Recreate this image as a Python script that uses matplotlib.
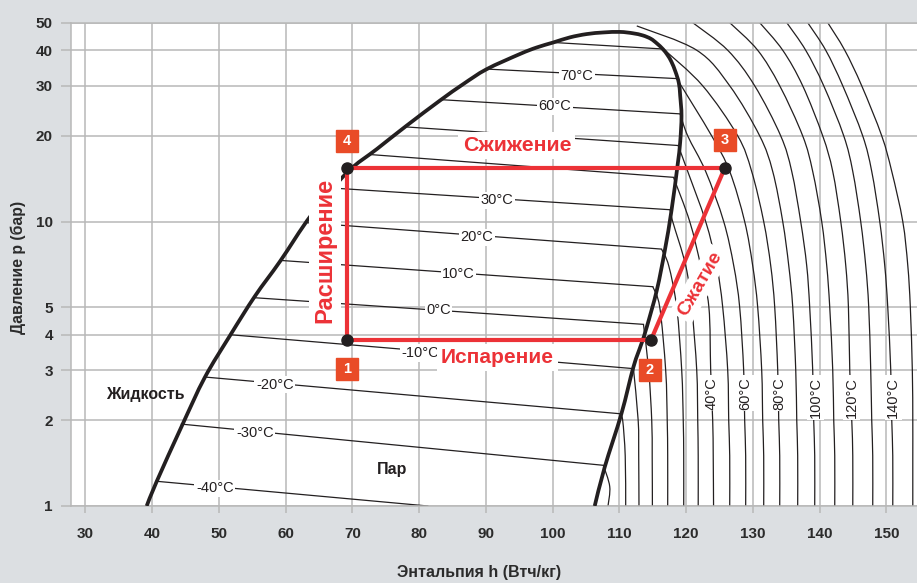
import numpy as np
import matplotlib
matplotlib.use('Agg')
import matplotlib.pyplot as plt
from matplotlib.ticker import NullLocator
from matplotlib.path import Path
from matplotlib.patches import PathPatch

plt.rcParams['font.family'] = ['Liberation Sans', 'DejaVu Sans']

# saturation dome (h in Wh/kg, p in bar), liquid side -> critical -> vapour side
dome_h = [39.2, 40.7, 44.5, 47.9, 51.7, 55.4, 59.2, 63.8, 69.2, 73.7, 78.1, 83.1,
          86.6, 90.1, 95.1, 97.6, 100.1, 102.6, 105.1, 107.6, 110.1, 112.0, 113.5,
          114.7, 115.6, 116.5, 117.2, 117.8, 118.4, 118.9, 119.1, 119.3, 119.1,
          118.7, 117.8, 116.8, 115.6, 114.1, 113.3, 112.1, 110.3, 107.8, 106.3]
dome_p = [1.0, 1.22, 1.92, 2.83, 3.98, 5.46, 7.26, 10.5, 14.86, 18.0, 21.7, 26.6,
          30.4, 34.3, 38.8, 40.9, 42.6, 44.4, 45.6, 46.2, 46.4, 45.9, 45.1,
          43.9, 42.3, 40.4, 38.5, 36.4, 33.6, 30.7, 27.7, 23.5, 19.0,
          15.7, 10.93, 7.91, 5.73, 4.26, 3.72, 3.08, 2.11, 1.37, 1.0]

# isotherms inside the dome
tp_temps = [-40, -30, -20, -10, 0, 10, 20, 30, 40, 50, 60, 70, 80]
tp_h_liq = [40.9, 44.4, 47.9, 51.7, 55.2, 59.2, 63.3, 67.3, 72.6, 78.1, 83.4, 90.6, 100.1]
tp_p_liq = [1.22, 1.94, 2.84, 4.0, 5.4, 7.3, 9.9, 13.1, 17.2, 21.5, 26.8, 34.3, 42.6]
tp_h_vap = [81.3, 107.6, 110.1, 112.1, 113.6, 115.0, 116.3, 117.6, 118.1, 118.8, 119.1, 118.6, 116.6]
tp_p_vap = [1.0, 1.39, 2.11, 3.04, 4.35, 5.9, 8.0, 11.0, 14.3, 18.5, 23.9, 31.8, 40.4]

# labelled two-phase isotherms: text, h, p
tp_lab_text = ['70°C', '60°C', '30°C', '20°C', '10°C', '0°C', '-10°C', '-20°C', '-30°C', '-40°C']
tp_lab_h = [103.6, 100.3, 91.6, 88.6, 85.9, 82.9, 80.2, 58.4, 55.4, 49.4]
tp_lab_p = [32.5, 25.4, 11.86, 8.81, 6.55, 4.90, 3.45, 2.67, 1.81, 1.154]

# superheated isotherms: start point, then h at fixed pressure levels
p_lev = [50, 40, 30, 20, 15, 10, 7, 5, 3, 2, 1.5, 1]
sh_temps = [-20, -10, 0, 10, 20, 30, 40, 50, 60, 70, 80, 90, 100, 110, 120, 130, 140, 150]
sh_start_h = [110.1, 112.1, 113.6, 115.0, 116.3, 117.6, 118.1, 118.8, 119.1, 118.6, 116.6,
              112.6, 120.98, 126.52, 131.01, 135.06, 138.20, 141.20]
sh_start_p = [2.11, 3.04, 4.35, 5.9, 8.0, 11.0, 14.3, 18.5, 23.9, 31.8, 40.4,
              48.7, 50, 50, 50, 50, 50, 50]
n = None
sh_h = [
    [n, n, n, n, n, n, n, n, n, 110.49, 110.87, 110.94],
    [n, n, n, n, n, n, n, n, n, 112.81, 112.89, 112.93],
    [n, n, n, n, n, n, n, n, 114.39, 114.84, 114.91, 114.94],
    [n, n, n, n, n, n, n, 116.04, 116.93, 117.16, 117.23, 117.23],
    [n, n, n, n, n, n, 117.38, 118.58, 119.33, 119.56, 119.63, 119.63],
    [n, n, n, n, n, 117.98, 119.93, 120.83, 121.58, 121.73, 121.80, 121.80],
    [n, n, n, n, n, 120.53, 122.17, 123.40, 123.67, 123.97, 124.05, 124.10],
    [n, n, n, n, 120.23, 122.92, 124.57, 125.47, 126.22, 126.37, 126.52, 126.52],
    [n, n, n, 120.23, 122.92, 125.62, 127.12, 128.01, 128.61, 128.76, 128.91, 128.91],
    [n, n, n, 123.82, 126.52, 128.76, 129.96, 130.71, 131.31, 131.46, 131.61, 131.61],
    [n, n, 122.47, 127.72, 129.81, 131.61, 132.66, 133.26, 133.71, 133.86, 134.01, 134.01],
    [n, 121.58, 126.52, 131.01, 132.96, 134.46, 135.36, 135.96, 136.41, 136.56, 136.70, 136.70],
    [n, 126.22, 130.26, 134.16, 135.81, 137.15, 138.05, 138.50, 138.95, 139.10, 139.25, 139.25],
    [n, 130.71, 134.01, 137.45, 138.95, 140.30, 141.05, 141.50, 141.95, 142.10, 142.25, 142.25],
    [n, 134.46, 137.45, 140.45, 141.95, 143.15, 143.90, 144.30, 144.50, 144.80, 144.95, 144.95],
    [n, 137.90, 140.60, 143.60, 144.95, 146.14, 146.89, 147.34, 147.64, 147.79, 147.94, 147.94],
    [n, 140.90, 143.45, 146.44, 147.79, 148.99, 149.74, 150.19, 150.64, 150.79, 150.94, 150.94],
    [n, 143.75, 146.29, 149.29, 150.79, 152.44, 153.19, 153.57, 153.87, 153.94, 153.94, 153.94],
]
# short -30 °C piece below the dome
sh30_h = [107.6, 108.55, 108.29]
sh30_p = [1.39, 1.17, 1.0]

sh_lab_text = ['40°C', '60°C', '80°C', '100°C', '120°C', '140°C']
sh_lab_h = [123.8, 128.9, 134.0, 139.4, 144.8, 151.0]
sh_lab_p = 2.84

# refrigeration cycle 1-2-3-4
cyc_h = [69.2, 114.7, 125.8, 69.2]
cyc_p = [3.82, 3.82, 15.47, 15.47]
cyc_num = ['1', '2', '3', '4']
num_h = [69.2, 114.55, 125.8, 69.2]
num_p = [3.03, 3.0, 19.4, 19.2]

RED = '#ec3237'
SQ = '#e94b27'
BLK = '#231f20'
GRID = '#b8b8b8'
BG = '#dcdfe2'


def smooth_line(ax, h, p, **kw):
    # curved path through the read points (Catmull-Rom in h / log p)
    x = list(h)
    y = list(np.log10(p))
    verts = [(x[0], y[0])]
    codes = [Path.MOVETO]
    for i in range(len(x) - 1):
        xa, ya = (x[i - 1], y[i - 1]) if i > 0 else (x[i], y[i])
        xb, yb = (x[i + 2], y[i + 2]) if i + 2 < len(x) else (x[i + 1], y[i + 1])
        verts.append((x[i] + (x[i + 1] - xa) / 6, y[i] + (y[i + 1] - ya) / 6))
        verts.append((x[i + 1] - (xb - x[i]) / 6, y[i + 1] - (yb - y[i]) / 6))
        verts.append((x[i + 1], y[i + 1]))
        codes += [Path.CURVE4] * 3
    verts = [(a, 10 ** b) for a, b in verts]
    ax.add_patch(PathPatch(Path(verts, codes), fill=False, **kw))


fig = plt.figure(figsize=(9.17, 5.83), dpi=100, facecolor=BG)
ax = fig.add_axes([0.0774, 0.1321, 0.9226, 0.829])
ax.set_facecolor('white')
ax.set_yscale('log')
ax.set_xlim(27.86, 154.57)
ax.set_ylim(1, 50)

yt = [1, 2, 3, 4, 5, 10, 20, 30, 40, 50]
ax.set_yticks(yt)
ax.set_yticklabels([str(v) for v in yt], fontweight='bold')
ax.yaxis.set_minor_locator(NullLocator())
xt = list(range(30, 151, 10))
ax.set_xticks(xt)
ax.set_xticklabels([str(v) for v in xt], fontweight='bold')
ax.tick_params(axis='y', length=7, width=1.1, color=GRID, pad=6, labelsize=11, labelcolor='#2b2b2b')
ax.tick_params(axis='x', length=5, width=1.1, color=GRID, pad=10, labelsize=11, labelcolor='#2b2b2b')
ax.grid(True, color=GRID, lw=1.1)
ax.set_axisbelow(True)
for s in ['left', 'bottom', 'top']:
    ax.spines[s].set_color(GRID)
    ax.spines[s].set_linewidth(1.1)
ax.spines['right'].set_visible(False)

# isotherms
for i in range(len(tp_temps)):
    ax.plot([tp_h_liq[i], tp_h_vap[i]], [tp_p_liq[i], tp_p_vap[i]], color=BLK, lw=0.9, zorder=2)
for i in range(len(sh_temps)):
    hh = [sh_start_h[i]]
    pp = [sh_start_p[i]]
    for p, h in zip(p_lev, sh_h[i]):
        if h is not None and p < sh_start_p[i]:
            hh.append(h)
            pp.append(p)
    smooth_line(ax, hh, pp, ec=BLK, lw=0.9, zorder=2)
smooth_line(ax, sh30_h, sh30_p, ec=BLK, lw=0.9, zorder=2)

# dome
smooth_line(ax, dome_h, dome_p, ec=BLK, lw=2.7, zorder=3, joinstyle='round')

wbox = dict(facecolor='white', edgecolor='none', pad=1.2)
for t, h, p in zip(tp_lab_text, tp_lab_h, tp_lab_p):
    ax.text(h, p, t, fontsize=10.5, ha='center', va='center', color='#231f20', bbox=wbox, zorder=4)
for t, h in zip(sh_lab_text, sh_lab_h):
    ax.text(h, sh_lab_p, t, fontsize=10.5, rotation=90, ha='center', va='top', color='#231f20',
            bbox=wbox, zorder=4)

ax.text(39.0, 2.46, 'Жидкость', fontsize=11.5, fontweight='bold', ha='center', va='center', color='#231f20')
ax.text(75.9, 1.348, 'Пар', fontsize=11.5, fontweight='bold', ha='center', va='center', color='#231f20')

# cycle
ax.plot([cyc_h[3], cyc_h[0]], [cyc_p[3], cyc_p[0]], color=RED, lw=3, zorder=5)
ax.plot(cyc_h[:2], cyc_p[:2], color=RED, lw=3, zorder=5)
ax.plot(cyc_h[1:3], cyc_p[1:3], color=RED, lw=3, zorder=5)
ax.plot(cyc_h[2:], cyc_p[2:], color=RED, lw=3, zorder=5)
ax.plot(cyc_h, cyc_p, 'o', color=BLK, ms=8, zorder=7)

rbox = dict(facecolor='white', edgecolor='none', pad=3)
ax.text(94.66, 18.5, 'Сжижение', fontsize=15.3, fontweight='bold', color=RED, ha='center', va='center',
        bbox=rbox, zorder=6)
ax.text(91.7, 3.33, 'Испарение', fontsize=15, fontweight='bold', color=RED, ha='center', va='center',
        bbox=rbox, zorder=6)
ax.text(65.9, 7.91, 'Расширение', fontsize=17, fontweight='bold', color=RED, ha='center', va='center',
        rotation=90, bbox=rbox, zorder=6)
ax.text(122.1, 6.06, 'Сжатие', fontsize=14, fontweight='bold', color=RED, ha='center', va='center',
        rotation=60, bbox=rbox, zorder=6)

for t, h, p in zip(cyc_num, num_h, num_p):
    ax.plot(h, p, 's', color=SQ, ms=15.5, zorder=7)
    ax.text(h, p, t, fontsize=10.5, fontweight='bold', color='white', ha='center', va='center', zorder=8)

fig.text(0.522, 0.0172, 'Энтальпия h (Втч/кг)', fontsize=11.5, fontweight='bold', ha='center',
         va='center', color='#2b2b2b')
fig.text(0.0196, 0.542, 'Давление p (бар)', fontsize=11.3, fontweight='bold', ha='center',
         va='center', rotation=90, color='#2b2b2b')

fig.savefig('out.png', dpi=100, facecolor=BG)
